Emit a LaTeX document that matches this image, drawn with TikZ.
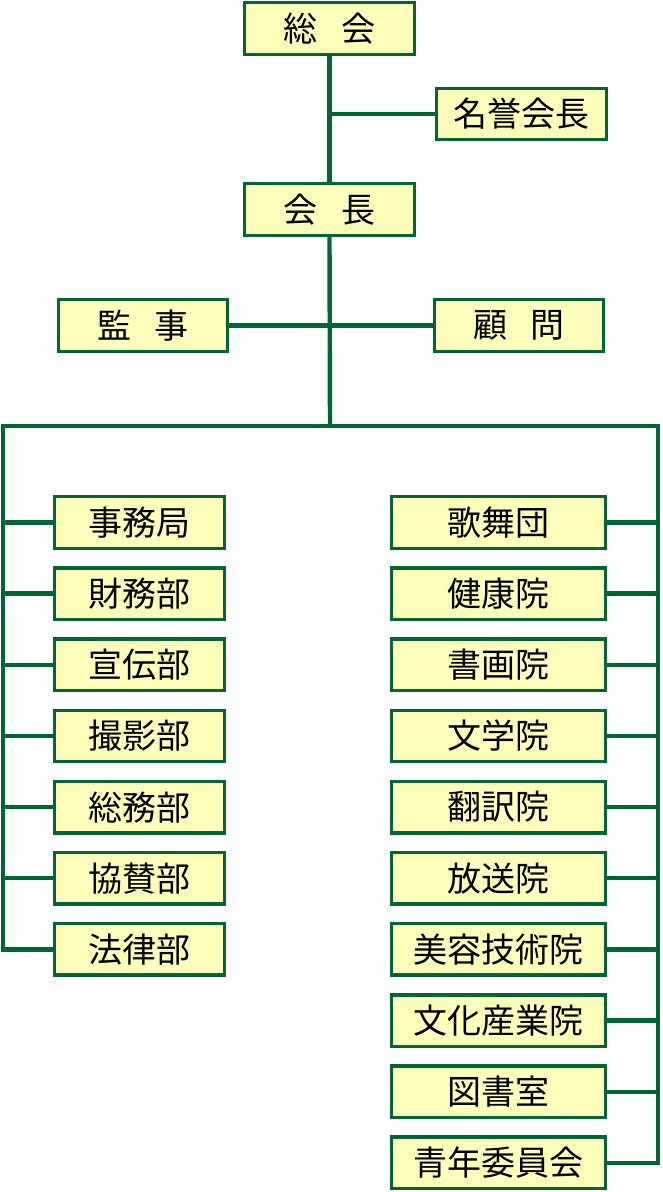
\documentclass[tikz,border=0pt]{standalone}
\usepackage{fontspec}
\setmainfont{Noto Sans CJK JP}
\definecolor{lineg}{RGB}{0,102,51}
\definecolor{boxfill}{RGB}{255,255,187}
\begin{document}
\begin{tikzpicture}[x=1pt,y=-1pt,
  orgbox/.style={draw=lineg,line width=3.4pt,fill=boxfill,inner sep=0pt,
    minimum height=51.5pt,font=\fontsize{34}{38}\selectfont,text=black},
  narrowbox/.style={orgbox,minimum width=169.5pt},
  widebox/.style={orgbox,minimum width=213.5pt},
  conn/.style={draw=lineg,line width=4.4pt}]
\useasboundingbox (0,0) rectangle (662,1192);
\fill[white] (0,0) rectangle (662,1192);
% top hierarchy
\node[narrowbox] (sokai) at (329.5,28.5) {総\hspace{0.7em}会};
\node[narrowbox] (meiyo) at (521.5,114) {名誉会長};
\node[narrowbox] (kaicho) at (329.5,209.5) {会\hspace{0.7em}長};
\node[narrowbox] (kanji) at (143,325.5) {監\hspace{0.7em}事};
\node[narrowbox] (komon) at (519,325.5) {顧\hspace{0.7em}問};
\coordinate (bar) at (330,426);
\coordinate (barL) at (3,426);
\coordinate (barR) at (658,426);
% left column
\foreach \name/\txt [count=\i from 0] in {l1/事務局,l2/財務部,l3/宣伝部,l4/撮影部,l5/総務部,l6/協賛部,l7/法律部}
  \node[narrowbox] (\name) at (139.5,{522.5+71.15*\i}) {\txt};
% right column
\foreach \name/\txt [count=\i from 0] in {r1/歌舞団,r2/健康院,r3/書画院,r4/文学院,r5/翻訳院,r6/放送院,r7/美容技術院,r8/文化産業院,r9/図書室,r10/青年委員会}
  \node[widebox] (\name) at (498.5,{522.5+71.15*\i}) {\txt};
% connectors
\draw[conn] (sokai.south) -- (kaicho.north);
\draw[conn] (sokai.south |- meiyo.west) -- (meiyo.west);
\draw[conn] (kaicho.south) -- (bar);
\draw[conn] (kanji.east) -- (komon.west);
\draw[conn,line join=miter] (l7.west) -| (barL) -- (barR) |- (r10.east);
\foreach \n in {l1,l2,l3,l4,l5,l6}
  \draw[conn] (\n.west) -- (\n.west -| barL);
\foreach \n in {r1,r2,r3,r4,r5,r6,r7,r8,r9}
  \draw[conn] (\n.east) -- (\n.east -| barR);
\end{tikzpicture}
\end{document}
